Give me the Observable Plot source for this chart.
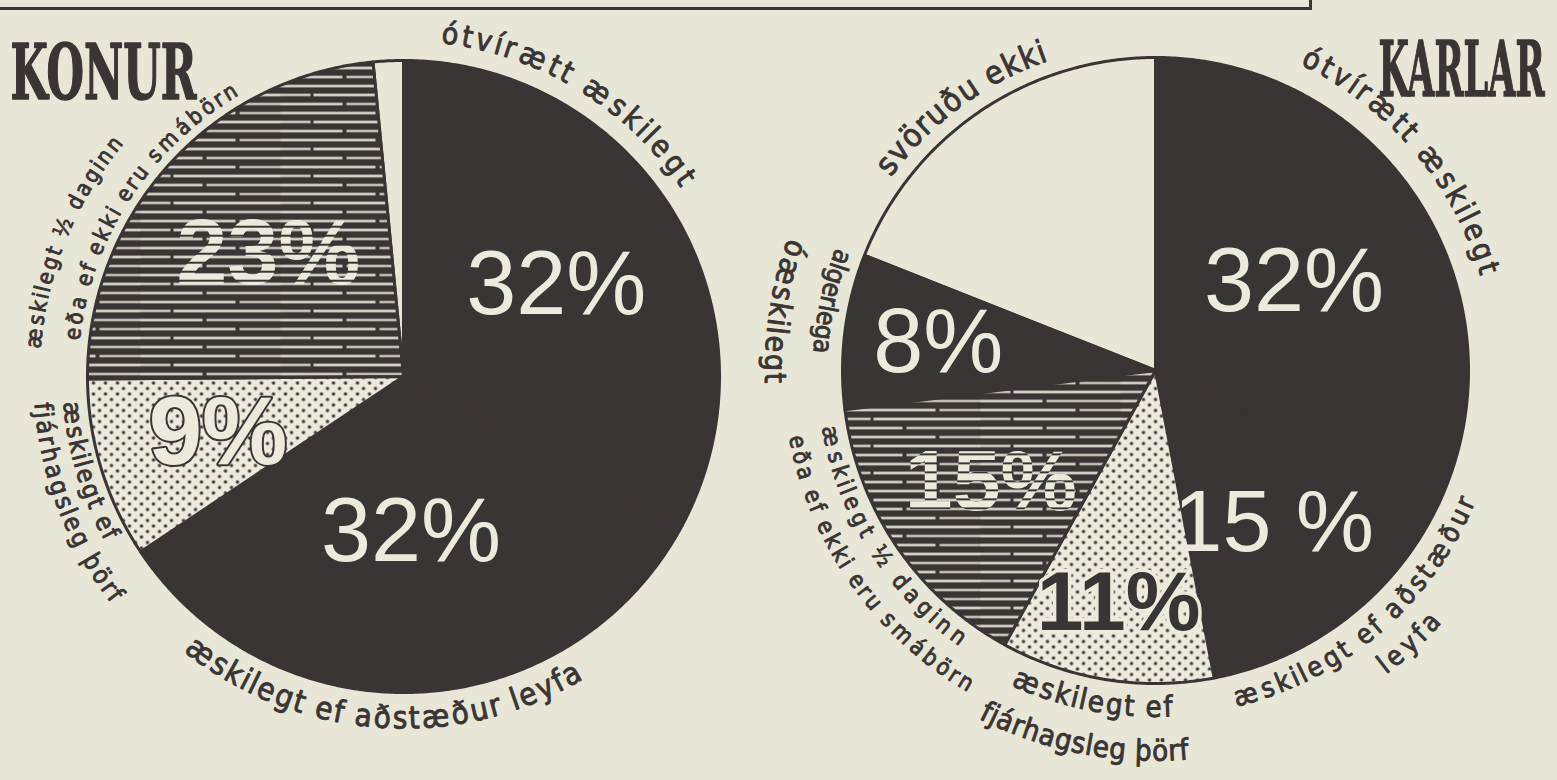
<!DOCTYPE html>
<html>
<head>
<meta charset="utf-8">
<script src="https://cdn.jsdelivr.net/npm/d3@7"></script>
<script src="https://cdn.jsdelivr.net/npm/@observablehq/plot@0.6"></script>
<style>
  html, body { margin: 0; padding: 0; background: #e8e6d6; }
  #wrap { position: relative; width: 1557px; height: 780px; overflow: hidden; }
  #frame { position: absolute; left: -4px; top: -3px; width: 1313px; height: 10px;
           border-right: 3px solid #3a3535; border-bottom: 3px solid #3a3535; }
  svg { display: block; }
</style>
</head>
<body>
<div id="wrap"><div id="frame"></div></div>
<script>
// ---------------- DATA ----------------
const titles = ["KONUR", "KARLAR"];

const konurCategories = ["ótvírætt æskilegt", "æskilegt ef aðstæður leyfa", "æskilegt ef fjárhagsleg þörf",
  "æskilegt ½ daginn eða ef ekki eru smábörn", "svöruðu ekki"];
const konurValues = [32, 32, 9, 23, 1.5];
const konurLabels = ["32%", "32%", "9%", "23%", ""];
const konurCaptions = [["ótvírætt æskilegt"], ["æskilegt ef aðstæður leyfa"], ["æskilegt ef", "fjárhagsleg þörf"],
  ["æskilegt ½ daginn", "eða ef ekki eru smábörn"], []];

const karlarCategories = ["ótvírætt æskilegt", "æskilegt ef aðstæður leyfa", "æskilegt ef fjárhagsleg þörf",
  "æskilegt ½ daginn eða ef ekki eru smábörn", "algerlega óæskilegt", "svöruðu ekki"];
const karlarValues = [32, 15, 11, 15, 8, 19];
const karlarLabels = ["32%", "15 %", "11%", "15%", "8%", ""];
const karlarCaptions = [["ótvírætt æskilegt"], ["æskilegt ef aðstæður", "leyfa"], ["æskilegt ef", "fjárhagsleg þörf"],
  ["æskilegt ½ daginn", "eða ef ekki eru smábörn"], ["algerlega", "óæskilegt"], ["svöruðu ekki"]];

// ---------------- STYLE / LAYOUT ----------------
const W = 1557, H = 780;
const INK = "#3a3535", PAPER = "#e8e6d6", LIGHT = "#eceadd";
const CAPFONT = '"DejaVu Sans Condensed", "DejaVu Sans", sans-serif';
const NUMFONT = '"Liberation Sans", Arial, sans-serif';

const kindOf = {
  "ótvírætt æskilegt": "solid",
  "æskilegt ef aðstæður leyfa": "solid",
  "æskilegt ef fjárhagsleg þörf": "dots",
  "æskilegt ½ daginn eða ef ekki eru smábörn": "hatch",
  "algerlega óæskilegt": "solid",
  "svöruðu ekki": "blank"
};

const pies = [
  { title: titles[0], cats: konurCategories, values: konurValues, labels: konurLabels, captions: konurCaptions,
    cx: 403, cy: 376, R: 316, titleX: 103, titleY: 74, titleLen: 186,
    labelR: [178, 156, 194, 182, 0], labelSize: [90, 90, 96, 92, 0],
    capLayout: [
      [{r: 345, a0: 6, a1: 56, size: 30, dir: 1}],
      [{r: 342, a0: 219, a1: 149, size: 31, dir: -1}],
      [{r: 333, a0: 266, a1: 241, size: 25, dir: -1}, {r: 362, a0: 266, a1: 232, size: 25, dir: -1}],
      [{r: 371, a0: 274, a1: 310, size: 22, dir: 1}, {r: 333, a0: 276, a1: 330, size: 22, dir: 1}],
      []
    ] },
  { title: titles[1], cats: karlarCategories, values: karlarValues, labels: karlarLabels, captions: karlarCaptions,
    cx: 1155, cy: 370, R: 313, titleX: 1461, titleY: 71, titleLen: 166,
    labelR: [164, 193, 236, 199, 219, 0], labelSize: [90, 88, 84, 86, 90, 0],
    capLayout: [
      [{r: 348, a0: 25, a1: 74, size: 30, dir: 1}],
      [{r: 337, a0: 167, a1: 112, size: 27, dir: -1}, {r: 373, a0: 143, a1: 131, size: 27, dir: -1}],
      [{r: 337, a0: 205, a1: 177, size: 29, dir: -1}, {r: 381, a0: 207, a1: 175, size: 29, dir: -1}],
      [{r: 331, a0: 261, a1: 215, size: 23, dir: -1}, {r: 365, a0: 260, a1: 210, size: 23, dir: -1}],
      [{r: 334, a0: 291, a1: 273, size: 26, dir: -1}, {r: 381, a0: 290, a1: 268, size: 30, dir: -1}],
      [{r: 338, a0: 306, a1: 341, size: 32, dir: 1}]
    ] }
];

// ---------------- DERIVED GEOMETRY ----------------
const rad = Math.PI / 180;
const pt = (p, r, deg) => ({x: p.cx + r * Math.sin(deg * rad), y: p.cy - r * Math.cos(deg * rad)});

const slicePts = [];
const pctLabels = [];
const chars = [];
const ctx = document.createElement("canvas").getContext("2d");
const measure = (s, size) => { ctx.font = `${size}px ${CAPFONT}`; return ctx.measureText(s).width; };

pies.forEach((p, pi) => {
  const total = d3.sum(p.values);
  let acc = 0;
  p.values.forEach((v, i) => {
    const a0 = acc / total * 360, a1 = (acc + v) / total * 360;
    acc += v;
    const key = pi + "-" + i, kind = kindOf[p.cats[i]];
    slicePts.push({key, kind, x: p.cx, y: p.cy});
    const n = Math.max(2, Math.ceil((a1 - a0) / 0.5));
    for (let k = 0; k <= n; k++) slicePts.push({key, kind, ...pt(p, p.R, a0 + (a1 - a0) * k / n)});
    slicePts.push({key, kind, x: p.cx, y: p.cy});
    if (p.labels[i]) {
      pctLabels.push({pie: pi, kind, text: p.labels[i], size: p.labelSize[i], ...pt(p, p.labelR[i], (a0 + a1) / 2)});
    }
    // handwritten captions, one glyph at a time along an arc
    (p.captions[i] || []).forEach((line, li) => {
      const L = p.capLayout[i][li];
      const glyphs = Array.from(line);
      const widths = glyphs.map(g => measure(g, L.size));
      const natural = d3.sum(widths);
      const arc = Math.abs(L.a1 - L.a0) * rad * L.r;
      const k = arc / natural;
      let s = 0;
      glyphs.forEach((g, gi) => {
        const mid = (s + widths[gi] / 2) * k;
        s += widths[gi];
        const ang = L.a0 + L.dir * (mid / L.r) / rad;
        const q = pt(p, L.r, ang);
        chars.push({ch: g, x: q.x, y: q.y, rot: L.dir > 0 ? ang : ang - 180, size: L.size});
      });
    });
  });
});

const titleData = pies.map(p => ({text: p.title, x: p.titleX, y: p.titleY, len: p.titleLen}));

// ---------------- PLOT ----------------
const sliceMark = (kind, fill) => Plot.line(slicePts.filter(d => d.kind === kind), {
  x: "x", y: "y", z: "key", fill, stroke: INK, strokeWidth: 3, strokeLinejoin: "round", curve: "linear"
});

const chart = Plot.plot({
  width: W, height: H, margin: 0,
  x: {domain: [0, W], range: [0, W], axis: null},
  y: {domain: [0, H], range: [0, H], axis: null},
  style: {background: "transparent", overflow: "visible"},
  marks: [
    sliceMark("blank", PAPER),
    sliceMark("solid", INK),
    sliceMark("dots", "url(#dots)"),
    sliceMark("hatch", "url(#hatch)"),
    // percentages
    Plot.text(pctLabels.filter(d => d.kind === "solid"), {
      x: "x", y: "y", text: "text", fontSize: "size", fontFamily: NUMFONT, fill: LIGHT, lineAnchor: "middle"}),
    Plot.text(pctLabels.filter(d => d.kind === "hatch"), {
      x: "x", y: "y", text: "text", fontSize: "size", fontFamily: NUMFONT, fontWeight: "bold",
      fill: "url(#hatchText)", lineAnchor: "middle"}),
    Plot.text(pctLabels.filter(d => d.kind === "dots" && d.pie === 0), {
      x: "x", y: "y", text: "text", fontSize: "size", fontFamily: NUMFONT, fontWeight: "bold",
      fill: LIGHT, stroke: INK, strokeWidth: 4, paintOrder: "stroke", lineAnchor: "middle"}),
    Plot.text(pctLabels.filter(d => d.kind === "dots" && d.pie === 1), {
      x: "x", y: "y", text: "text", fontSize: "size", fontFamily: '"Liberation Sans Narrow", ' + NUMFONT,
      fontWeight: "bold", fill: INK, stroke: LIGHT, strokeWidth: 7, paintOrder: "stroke", lineAnchor: "middle"}),
    // handwritten captions
    Plot.text(chars, {
      x: "x", y: "y", text: "ch", rotate: "rot", fontSize: "size", fontFamily: CAPFONT,
      fill: INK, stroke: INK, strokeWidth: 0.9, textAnchor: "middle", lineAnchor: "middle"}),
    // titles
    Plot.text(titleData, {
      x: "x", y: "y", text: "text", fontSize: 76, fontWeight: "bold",
      fontFamily: '"DejaVu Serif Condensed", "DejaVu Serif", serif', fill: INK,
      stroke: INK, strokeWidth: 1.5, lineAnchor: "middle"})
  ]
});

// patterns used by the fills
const ns = "http://www.w3.org/2000/svg";
const defs = document.createElementNS(ns, "defs");
defs.innerHTML = `
  <pattern id="hatch" patternUnits="userSpaceOnUse" width="140" height="27">
    <rect width="140" height="27" fill="${INK}"/>
    <rect x="0" y="3.4" width="95" height="2.3" fill="${LIGHT}"/>
    <rect x="99" y="3.6" width="41" height="1.9" fill="${LIGHT}"/>
    <rect x="0" y="12.4" width="30" height="2.1" fill="${LIGHT}"/>
    <rect x="33" y="12.3" width="107" height="2.4" fill="${LIGHT}"/>
    <rect x="0" y="21.4" width="62" height="2.3" fill="${LIGHT}"/>
    <rect x="66" y="21.5" width="74" height="2" fill="${LIGHT}"/>
  </pattern>
  <pattern id="hatchText" patternUnits="userSpaceOnUse" width="90" height="9">
    <rect width="90" height="9" fill="${LIGHT}"/>
    <rect x="0" y="7" width="90" height="2" fill="${INK}"/>
  </pattern>
  <pattern id="dots" patternUnits="userSpaceOnUse" width="12" height="11">
    <rect width="12" height="11" fill="${LIGHT}"/>
    <circle cx="3" cy="3" r="1.7" fill="${INK}"/>
    <circle cx="9" cy="8.5" r="1.7" fill="${INK}"/>
  </pattern>`;
chart.insertBefore(defs, chart.firstChild);

document.getElementById("wrap").appendChild(chart);

// squeeze the heavy title lettering horizontally to its width in the original
chart.querySelectorAll("text").forEach(t => {
  const d = titleData.find(d => d.text === t.textContent);
  if (!d) return;
  const natural = t.getComputedTextLength();
  if (natural > 0) {
    const tr = t.getAttribute("transform") || "";
    t.setAttribute("transform", tr + ` scale(${(d.len / natural).toFixed(4)},1)`);
  }
});
</script>
</body>
</html>
